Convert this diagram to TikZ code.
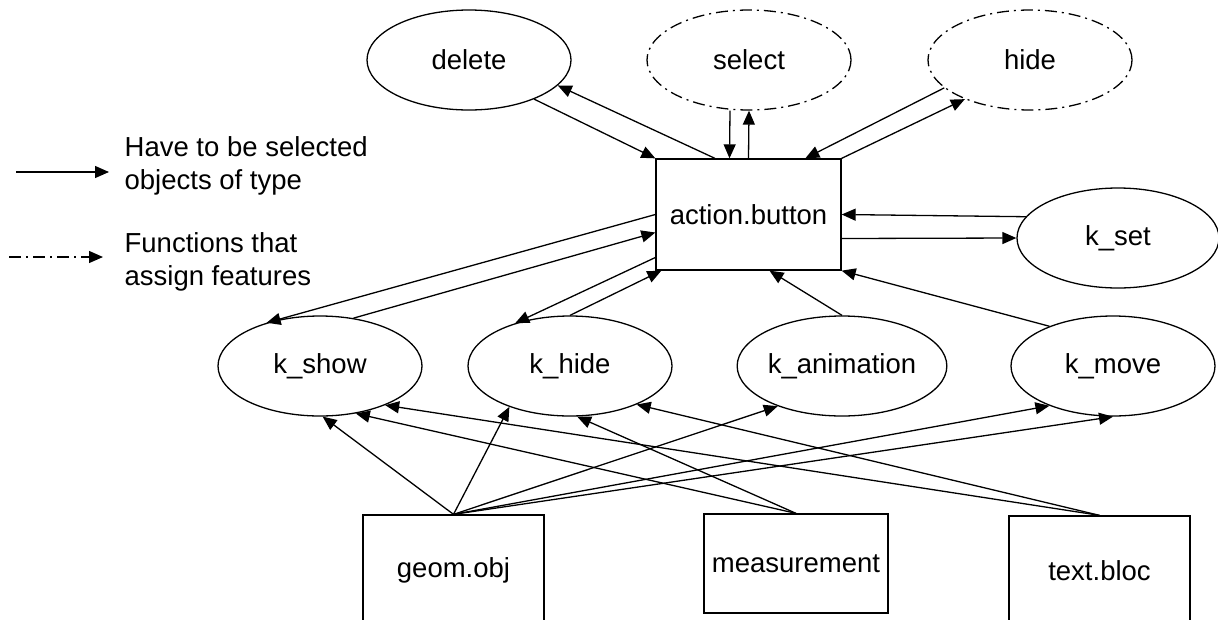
\documentclass[tikz,border=0pt]{standalone}
\usepackage{fontspec}
\setmainfont{Liberation Sans}
\usetikzlibrary{shapes.geometric,arrows.meta,calc}
\begin{document}
\begin{tikzpicture}[x=1pt,y=-1pt,
  every node/.style={font=\fontsize{27.5}{32.5}\selectfont, line width=1.3pt},
  oval/.style={draw, ellipse, minimum width=204pt, minimum height=100pt, inner sep=0pt},
  dashdot/.style={dash pattern=on 12pt off 5pt on 2pt off 5pt},
  box/.style={draw, rectangle, inner sep=0pt},
  arr/.style={-{Triangle[length=14pt,width=12pt]}, line width=1.3pt}
]
\useasboundingbox (0,0) rectangle (1218,619);
\clip (0,0) rectangle (1218,619);

% legend
\coordinate (l1a) at (16,172);
\coordinate (l1b) at (109,172);
\coordinate (l2a) at (9,257);
\coordinate (l2b) at (103,257);
\draw[arr] (l1a) -- (l1b);
\draw[arr, dashdot] (l2a) -- (l2b);
\node[anchor=west, align=left, inner sep=0pt] (leg1) at (124,166) {Have to be selected\\objects of type};
\node[anchor=west, align=left, inner sep=0pt] (leg2) at (124,262) {Functions that\\assign features};

% top ellipses
\node[oval] (delete) at (469,60) {delete};
\node[oval, dashdot] (select) at (749,60) {select};
\node[oval, dashdot] (hide) at (1030,60) {hide};

% action button
\node[box, minimum width=185pt, minimum height=111pt] (ab) at (748.5,214.5) {action.button};
\node[oval, minimum width=202pt] (kset) at (1118,238) {k\_set};

% middle ellipses
\node[oval] (kshow) at (320,366) {k\_show};
\node[oval] (khide) at (570,366) {k\_hide};
\node[oval] (kanim) at (842,366) {k\_animation};
\node[oval] (kmove) at (1113,366) {k\_move};

% bottom boxes
\node[box, minimum width=181pt, minimum height=110pt] (geom) at (453.5,570) {geom.obj};
\node[box, minimum width=184pt, minimum height=99pt] (meas) at (796,563.5) {measurement};
\node[box, minimum width=181pt, minimum height=109pt] (tb) at (1099.5,570.5) {text.bloc};

% top connectors
\draw[arr] (delete.-31) -- (ab.north west);
\draw[arr] ($(ab.north west)!.32!(ab.north east)$) -- (delete.-16);
\draw[arr] ([xshift=-19pt]select.south) -- ([xshift=-19pt]ab.north);
\draw[arr] (ab.north) -- (select.south);
\draw[arr] (hide.-162) -- ($(ab.north west)!.805!(ab.north east)$);
\draw[arr] (ab.north east) -- (hide.-149);
\draw[arr] (kset.167) -- (ab.east);
\draw[arr] ([yshift=-24pt]ab.east) -- (kset.west);

% middle connectors
\draw[arr] (ab.west) -- (kshow.141);
\draw[arr] (kshow.55) -- ([yshift=-18pt]ab.west);
\draw[arr] ([yshift=-43pt]ab.west) -- (khide.142);
\draw[arr] (khide.north) -- ([xshift=6pt]ab.south west);
\draw[arr] (kanim.north) -- ([xshift=21pt]ab.south);
\draw[arr] (kmove.148) -- (ab.south east);

% bottom connectors
\draw[arr] (geom.north) -- (kshow.-87);
\draw[arr] (geom.north) -- (khide.-146);
\draw[arr] (geom.north) -- (kanim.-148);
\draw[arr] (geom.north) -- (kmove.-148);
\draw[arr] (geom.north) -- (kmove.south);
\draw[arr] (meas.north) -- (kshow.-53);
\draw[arr] (meas.north) -- (khide.-82);
\draw[arr] (tb.north) -- (kshow.-31);
\draw[arr] (tb.north) -- (khide.-30);
\end{tikzpicture}
\end{document}
